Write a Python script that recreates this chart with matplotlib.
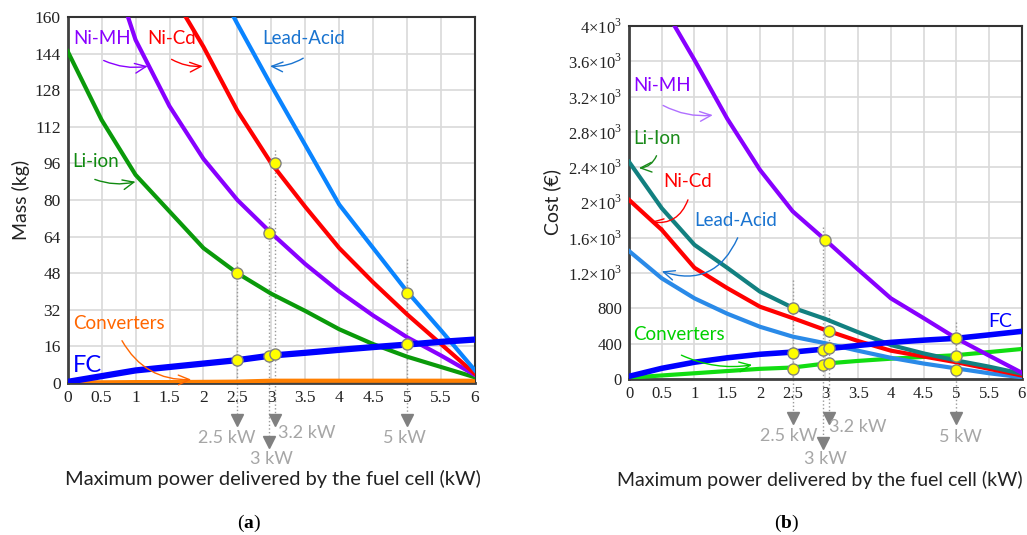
import matplotlib
matplotlib.use("Agg")
import matplotlib.pyplot as plt
from matplotlib.ticker import FixedLocator, FixedFormatter

plt.rcParams['mathtext.fontset'] = 'custom'
plt.rcParams['mathtext.rm'] = 'Liberation Serif'
plt.rcParams['mathtext.bf'] = 'Liberation Serif:bold'

# ---------------- data ----------------
power_kw = [0, 0.5, 1, 1.5, 2, 2.5, 3, 3.5, 4, 4.5, 5, 5.5, 6]

mass_li_ion = [145, 115, 91, 75, 59, 48, 39, 31.5, 23.5, 17, 11.5, 7, 2.5]
mass_ni_mh = [240, 195, 150, 121, 98, 80, 65.5, 52, 40, 29.5, 20, 12, 3.5]
mass_ni_cd = [250, 220, 195, 172, 147, 119, 96, 77, 59, 44, 30, 17, 4]
mass_lead_acid = [285, 260, 235, 210, 185, 157, 130, 104, 78, 59, 40, 23, 5.5]
mass_fc = [0.5, 3, 5.5, 7, 8.5, 10, 12, 13.2, 14.5, 15.7, 16.8, 18, 19]
mass_converters = [0.3, 0.3, 0.4, 0.4, 0.5, 0.6, 1, 1, 1, 1, 1, 1, 1]

cost_ni_mh = [4900, 4250, 3615, 2950, 2370, 1900, 1575, 1240, 914, 690, 461, 265, 71]
cost_li_ion = [2460, 1935, 1520, 1260, 990, 808, 680, 530, 385, 290, 210, 140, 60]
cost_ni_cd = [2030, 1690, 1260, 1030, 819, 690, 555, 430, 321, 255, 190, 115, 40]
cost_lead_acid = [1450, 1141, 914, 740, 592, 480, 405, 320, 240, 175, 120, 65, 20]
cost_fc = [30, 121, 190, 240, 280, 305, 340, 380, 415, 440, 461, 500, 540]
cost_converters = [15, 40, 65, 90, 115, 130, 175, 205, 230, 250, 270, 305, 340]

# highlighted operating points
mass_pts_x = [2.5, 2.5, 2.97, 2.97, 3.05, 3.05, 5, 5]
mass_pts_y = [48, 10, 65.5, 12, 96, 12.5, 39.5, 17]
cost_pts_x = [2.5, 2.5, 2.5, 2.97, 2.97, 2.99, 3.05, 3.05, 3.05, 5, 5, 5]
cost_pts_y = [808, 300, 115, 330, 160, 1575, 540, 350, 185, 470, 265, 105]

# selected powers (dotted guide lines + labels)
sel_x = [2.5, 2.97, 3.05, 5]
sel_labels = ['2.5 kW', '3 kW', '3.2 kW', '5 kW']
mass_guide_top = [53, 72, 102, 54]
cost_guide_top = [1122, 1726, 782, 650]

x_ticks = [0, 0.5, 1, 1.5, 2, 2.5, 3, 3.5, 4, 4.5, 5, 5.5, 6]
x_tick_labels = ['0', '0.5', '1', '1.5', '2', '2.5', '3', '3.5', '4', '4.5', '5', '5.5', '6']
mass_ticks = [0, 16, 32, 48, 64, 80, 96, 112, 128, 144, 160]
cost_ticks = [0, 400, 800, 1200, 1600, 2000, 2400, 2800, 3200, 3600, 4000]
cost_tick_labels = ['0', '400', '800', r'$1.2{\times}10^3$', r'$1.6{\times}10^3$', r'$2{\times}10^3$',
                    r'$2.4{\times}10^3$', r'$2.8{\times}10^3$', r'$3.2{\times}10^3$',
                    r'$3.6{\times}10^3$', r'$4{\times}10^3$']
x_title = 'Maximum power delivered by the fuel cell (kW)'

SANS = 'Lato'
SERIF = 'Liberation Serif'

fig = plt.figure(figsize=(10.27, 5.35), dpi=100)
axL = fig.add_axes([0.0659, 0.2841, 0.3966, 0.6841])
axR = fig.add_axes([0.6125, 0.2916, 0.3824, 0.6598])


def style(ax, yticks, ylabels, ymax, fs):
    ax.set_xlim(0, 6)
    ax.set_ylim(0, ymax)
    ax.xaxis.set_major_locator(FixedLocator(x_ticks))
    ax.xaxis.set_major_formatter(FixedFormatter(x_tick_labels))
    ax.yaxis.set_major_locator(FixedLocator(yticks))
    ax.yaxis.set_major_formatter(FixedFormatter(ylabels))
    ax.grid(True, color='#d9d9d9', lw=1.2, zorder=0)
    ax.set_axisbelow(True)
    ax.tick_params(length=0, labelsize=fs, pad=5)
    for lab in ax.get_xticklabels() + ax.get_yticklabels():
        lab.set_fontfamily(SERIF)
        lab.set_color('#222222')
    for s in ['left', 'bottom']:
        ax.spines[s].set_color('#404040')
        ax.spines[s].set_linewidth(2)
    for s in ['top', 'right']:
        ax.spines[s].set_color('#333333')
        ax.spines[s].set_linewidth(1.5)


# ---------------- left: mass ----------------
style(axL, mass_ticks, [str(t) for t in mass_ticks], 160, 12.5)
axL.plot(power_kw, mass_converters, color='#ff7f00', lw=3, zorder=3)
axL.plot(power_kw, mass_li_ion, color='#0a9a0a', lw=3, zorder=3)
axL.plot(power_kw, mass_ni_mh, color='#8800ff', lw=3, zorder=3)
axL.plot(power_kw, mass_ni_cd, color='#ff0000', lw=3, zorder=3)
axL.plot(power_kw, mass_lead_acid, color='#0a84ff', lw=3, zorder=3)
axL.plot(power_kw, mass_fc, color='#0000ff', lw=4.5, zorder=4)

for x, top, lab in zip(sel_x, mass_guide_top, sel_labels):
    bot = -25.6 if lab == '3 kW' else -16
    axL.plot([x, x], [top, bot], ls=':', color='#999999', lw=1, clip_on=False, zorder=2)
    axL.plot([x], [bot], marker='v', ms=8, color='#808080', clip_on=False, zorder=2)
label_pos_L = {'2.5 kW': (2.34, -24), '3 kW': (3.0, -33.2), '3.2 kW': (3.52, -21.8), '5 kW': (4.96, -24)}
for lab, (tx, ty) in label_pos_L.items():
    axL.text(tx, ty, lab, color='#a6a6a6', fontsize=13, family=SANS, ha='center', va='center', clip_on=False)

axL.plot(mass_pts_x, mass_pts_y, 'o', ms=8, mfc='#ffff00', mec='#808080', mew=1, zorder=5, clip_on=False)

axL.set_ylabel('Mass (kg)', family=SANS, fontsize=14, color='#222222', labelpad=3)
fig.text(273 / 1027, 1 - 479 / 535, x_title, family=SANS, fontsize=14.4, color='#222222',
         ha='center', va='center')

def ann(ax, text, color, xy_text, xy_from, xy_to, rad, fs=13.5, acolor=None):
    ax.text(*xy_text, text, color=color, fontsize=fs, family=SANS, ha='left', va='center', zorder=6)
    ax.annotate('', xy=xy_to, xytext=xy_from,
                arrowprops=dict(arrowstyle='->,head_length=0.8,head_width=0.35', color=acolor or color,
                                lw=1, connectionstyle='arc3,rad=%s' % rad, shrinkA=0, shrinkB=0), zorder=6)

ann(axL, 'Ni-MH', '#8a00ff', (0.08, 150.5), (0.53, 141), (1.18, 138.5), 0.15)
ann(axL, 'Ni-Cd', '#ff0000', (1.17, 150.5), (1.53, 141.5), (1.99, 138.5), 0.15)
ann(axL, 'Lead-Acid', '#1a74d0', (2.87, 150.5), (3.47, 142), (2.98, 138.5), -0.15)
ann(axL, 'Li-ion', '#108a10', (0.07, 97), (0.4, 89), (1.0, 88), 0.15)
ann(axL, 'Converters', '#ff6600', (0.08, 26), (0.8, 18.5), (1.82, 1.5), 0.3)
axL.text(0.08, 7.5, 'FC', color='#0000ff', fontsize=17, family=SANS, ha='left', va='center', zorder=6)

# ---------------- right: cost ----------------
style(axR, cost_ticks, cost_tick_labels, 4000, 12)
axR.plot(power_kw, cost_converters, color='#11dd11', lw=3, zorder=3)
axR.plot(power_kw, cost_lead_acid, color='#2a8ae8', lw=3, zorder=3)
axR.plot(power_kw, cost_ni_cd, color='#ff0000', lw=3, zorder=3)
axR.plot(power_kw, cost_li_ion, color='#128080', lw=3, zorder=3)
axR.plot(power_kw, cost_ni_mh, color='#8800ff', lw=3, zorder=3)
axR.plot(power_kw, cost_fc, color='#0000ff', lw=4, zorder=4)

for x, top, lab in zip(sel_x, cost_guide_top, sel_labels):
    bot = -721 if lab == '3 kW' else -442
    axR.plot([x, x], [top, bot], ls=':', color='#999999', lw=1, clip_on=False, zorder=2)
    axR.plot([x], [bot], marker='v', ms=8, color='#808080', clip_on=False, zorder=2)
label_pos_R = {'2.5 kW': (2.44, -642), '3 kW': (3.0, -910), '3.2 kW': (3.5, -548), '5 kW': (5.06, -653)}
for lab, (tx, ty) in label_pos_R.items():
    axR.text(tx, ty, lab, color='#a6a6a6', fontsize=13, family=SANS, ha='center', va='center', clip_on=False)

axR.plot(cost_pts_x, cost_pts_y, 'o', ms=8, mfc='#ffff00', mec='#808080', mew=1, zorder=5, clip_on=False)

axR.set_ylabel('Cost (€)', family=SANS, fontsize=14, color='#222222', labelpad=5)
fig.text(820 / 1027, 1 - 480 / 535, x_title, family=SANS, fontsize=14, color='#222222',
         ha='center', va='center')

ann(axR, 'Ni-MH', '#8a00ff', (0.07, 3330), (0.52, 3100), (1.28, 2990), 0.15, acolor='#b070ff')
ann(axR, 'Li-Ion', '#1a8a1a', (0.07, 2730), (0.42, 2530), (0.15, 2390), -0.3)
ann(axR, 'Ni-Cd', '#ff0000', (0.52, 2240), (0.9, 2030), (0.33, 1780), -0.4)
ann(axR, 'Lead-Acid', '#1a74d0', (1.0, 1800), (1.66, 1600), (0.5, 1220), -0.45)
ann(axR, 'Converters', '#00d000', (0.07, 500), (0.8, 270), (1.88, 160), 0.15)
axR.text(5.85, 650, 'FC', color='#0000ff', fontsize=14, family=SANS, ha='right', va='center', zorder=6)

fig.text(249 / 1027, 1 - 523 / 535, r'($\mathbf{a}$)', fontsize=14, family=SERIF, ha='center', va='center')
fig.text(787 / 1027, 1 - 523 / 535, r'($\mathbf{b}$)', fontsize=14, family=SERIF, ha='center', va='center')

fig.savefig('out.png', dpi=100)
